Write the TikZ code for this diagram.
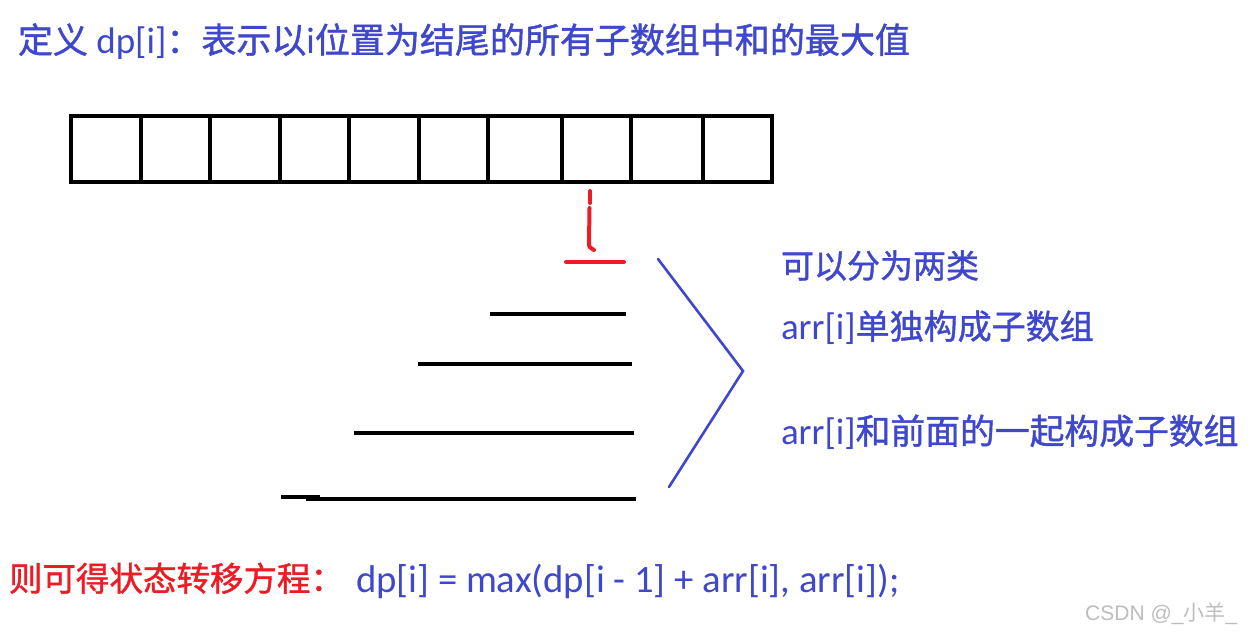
\documentclass[tikz,border=0pt]{standalone}
\usepackage{fontspec}
\setmainfont{Carlito}
\newfontfamily\cjk{Noto Sans CJK SC}[FakeBold=1.2]
\newfontfamily\wmcjk{Noto Sans CJK SC}
\newfontfamily\wmfont{Liberation Sans}
\definecolor{penblue}{HTML}{3F48CC}
\definecolor{penred}{HTML}{ED1C24}
\definecolor{wmgray}{HTML}{BDBDBD}
\begin{document}
\begin{tikzpicture}[x=1pt,y=-1pt,
  txt/.style={anchor=base west,inner sep=0pt,outer sep=0pt,text=penblue,font=\fontsize{37}{44}\selectfont},
  redtxt/.style={txt,text=penred},
  wm/.style={anchor=base west,inner sep=0pt,text=wmgray,font=\wmfont\fontsize{21}{25}\selectfont},
  arrbox/.style={line width=4pt,black},
  redpen/.style={line width=4pt,penred,line cap=round},
  blackpen/.style={line width=4pt,black},
  bluepen/.style={line width=2.6pt,penblue,line cap=round,line join=miter}]
\useasboundingbox[fill=white] (0,0) rectangle (1253,637);
% title
\node[txt] (title) at (18,53) {{\cjk\fontsize{35}{40}\selectfont 定义} dp[i]{\cjk\fontsize{35}{40}\selectfont ：表示以}i{\cjk\fontsize{35}{40}\selectfont 位置为结尾的所有子数组中和的最大值}};
% array
\draw[arrbox] (71,116) rectangle (772,182);
\foreach \xx in {141,210,280,349,419,488,562,631,703} \draw[arrbox] (\xx,116) -- (\xx,182);
% red marker
\coordinate (r1) at (590,191);
\coordinate (r2) at (590,203);
\coordinate (r3) at (589.5,208);
\coordinate (r4) at (589,243);
\coordinate (r5) at (594,250);
\draw[redpen] (r1) -- (r2);
\draw[redpen] (r3) -- (r4) .. controls (589,247) .. (r5);
\coordinate (h1) at (566,262);
\coordinate (h2) at (624,262);
\draw[redpen] (h1) -- (h2);
% black lines
\coordinate (b1a) at (490,314); \coordinate (b1b) at (626,314);
\coordinate (b2a) at (418,364); \coordinate (b2b) at (632,364);
\coordinate (b3a) at (354,433); \coordinate (b3b) at (634,433);
\coordinate (b4a) at (281,497); \coordinate (b4m) at (320,497); \coordinate (b4c) at (306,499); \coordinate (b4b) at (636,499);
\draw[blackpen] (b1a) -- (b1b);
\draw[blackpen] (b2a) -- (b2b);
\draw[blackpen] (b3a) -- (b3b);
\draw[blackpen] (b4a) -- (b4m);
\draw[blackpen] (b4c) -- (b4b);
% blue bracket
\coordinate (k1) at (658,259);
\coordinate (k2) at (743,371);
\coordinate (k3) at (669,487);
\draw[bluepen] (k1) -- (k2) -- (k3);
% right texts
\node[txt] (t1) at (781,278) {\cjk\fontsize{33}{40}\selectfont 可以分为两类};
\node[txt] (t2) at (781,339) {arr[i]{\cjk\fontsize{34}{40}\selectfont 单独构成子数组}};
\node[txt] (t3) at (781,444) {arr[i]{\cjk\fontsize{34.8}{40}\selectfont 和前面的一起构成子数组}};
% bottom
\node[redtxt] (eqlabel) at (9,591) {\cjk\fontsize{33.5}{40}\selectfont 则可得状态转移方程：};
\node[txt] (eq) at (356,592) {\fontsize{38.7}{44}\selectfont dp[i] = max(dp[i - 1] + arr[i], arr[i]);};
% watermark
\node[wm] (mark) at (1085,620) {CSDN @\_{\wmcjk 小羊}\_};
\end{tikzpicture}
\end{document}
